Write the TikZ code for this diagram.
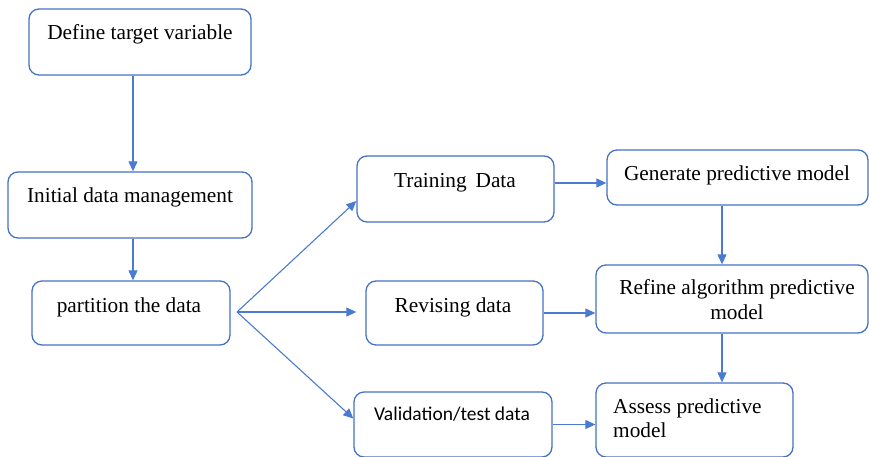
\documentclass[tikz,border=0pt]{standalone}
\usepackage{fontspec}
\setmainfont{Liberation Serif}
\newfontfamily\calfont{Carlito}
\usetikzlibrary{arrows.meta}
\definecolor{boxblue}{HTML}{4472C4}
\definecolor{arrblue}{HTML}{4A7BD0}
\tikzset{
  box/.style={draw=boxblue, line width=1.3pt, rounded corners=10pt, fill=white, inner sep=0pt},
  lbl/.style={font=\fontsize{21.3}{26}\selectfont, inner sep=0pt, anchor=base},
  arr/.style={draw=arrblue, line width=1.1pt, -{Triangle[length=10pt,width=9pt]}}
}
\begin{document}
\begin{tikzpicture}[x=1pt,y=-1pt]
\useasboundingbox (0,0) rectangle (869,457);
% boxes
\node[box, minimum width=222pt, minimum height=66pt] (b1) at (140,42) {};
\node[box, minimum width=244pt, minimum height=66pt] (b2) at (130,205) {};
\node[box, minimum width=198pt, minimum height=64pt] (b3) at (131,313) {};
\node[box, minimum width=197pt, minimum height=66pt] (t1) at (455.5,189) {};
\node[box, minimum width=177pt, minimum height=64pt] (t2) at (454.5,313) {};
\node[box, minimum width=198pt, minimum height=65pt] (t3) at (453,424.5) {};
\node[box, minimum width=261pt, minimum height=55pt] (g) at (737.5,177.5) {};
\node[box, minimum width=272pt, minimum height=68pt] (r) at (732,299) {};
\node[box, minimum width=197pt, minimum height=74pt] (a) at (694.5,420) {};
% texts
\node[lbl] (l1) at (140,40) {Define target variable};
\node[lbl] (l2) at (130,202) {Initial data management};
\node[lbl] (l3) at (129,312) {partition the data};
\node[lbl] (l4) at (455,187) {Training\, Data};
\node[lbl] (l5) at (453,312) {Revising data};
\node[lbl, font=\calfont\fontsize{19.5}{24}\selectfont] (l6) at (452,420) {Validation/test data};
\node[lbl] (l7) at (737,180) {Generate predictive model};
\node[lbl, align=center, font=\fontsize{21.3}{25}\selectfont] (l8) at (737,319) {Refine algorithm predictive\\model};
\node[lbl, align=left, anchor=base west, font=\fontsize{21.3}{24}\selectfont] (l9) at (613,437) {Assess predictive\\model};
% connectors
\coordinate (fan) at (237,312);
\draw[arr] ([xshift=-7pt]b1.south) -- ([xshift=-7pt]b1.south |- b2.north);
\draw[arr] ([xshift=2pt]b3.north |- b2.south) -- ([xshift=2pt]b3.north);
\draw[arr] (fan) -- ([yshift=-12pt]t1.west);
\draw[arr] (fan) -- ([xshift=-9pt]t2.west |- fan);
\draw[arr] (fan) -- ([yshift=6pt]t3.west);
\draw[arr] ([yshift=6pt]t1.east) -- ([yshift=6pt]t1.east -| g.west);
\draw[arr] (t2.east) -- (t2.east -| r.west);
\draw[arr] (t3.east) -- (t3.east -| a.west);
\draw[arr] ([xshift=-15.5pt]g.south) -- ([xshift=-15.5pt]g.south |- r.north);
\draw[arr] ([xshift=-10pt]r.south) -- ([xshift=-10pt]r.south |- a.north);
\end{tikzpicture}
\end{document}
